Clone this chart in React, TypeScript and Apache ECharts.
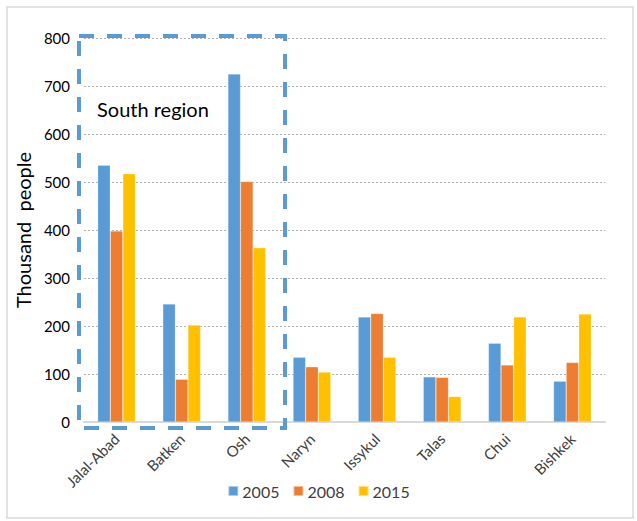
import React, { useEffect, useRef } from "react";
import * as echarts from "echarts";

const categories = ["Jalal-Abad", "Batken", "Osh", "Naryn", "Issykul", "Talas", "Chui", "Bishkek"];
const seriesNames = ["2005", "2008", "2015"];
const values2005 = [535, 246, 725, 135, 219, 94, 164, 85];
const values2008 = [398, 89, 501, 115, 226, 93, 119, 124];
const values2015 = [517, 202, 363, 104, 135, 53, 219, 225];
const colors = ["#5b9bd5", "#ed7d31", "#ffc000"];

export default function App() {
  const ref = useRef<HTMLDivElement>(null);
  useEffect(() => {
    document.body.style.margin = "0";
    const chart = echarts.init(ref.current!, null, { renderer: "svg" });
    const font = "Lato, 'Noto Sans', sans-serif";
    const data = [values2005, values2008, values2015];
    chart.setOption({
      animation: false,
      backgroundColor: "#ffffff",
      textStyle: { fontFamily: font },
      grid: { left: 84, right: 32, top: 38, bottom: 99, containLabel: false },
      legend: {
        data: seriesNames,
        top: 478,
        left: "center",
        itemWidth: 10,
        itemHeight: 10,
        itemGap: 13,
        icon: "rect",
        textStyle: { fontSize: 16, color: "#404040", fontFamily: font, padding: [0, 0, 0, -1] },
      },
      xAxis: {
        type: "category",
        data: categories,
        axisLine: { lineStyle: { color: "#d9d9d9", width: 2 } },
        axisTick: { show: false },
        axisLabel: { rotate: 45, fontSize: 15, color: "#404040", margin: 14, fontFamily: font },
      },
      yAxis: {
        type: "value",
        min: 0,
        max: 800,
        interval: 100,
        name: "Thousand  people",
        nameLocation: "middle",
        nameGap: 50,
        nameRotate: 90,
        nameTextStyle: { fontSize: 20, color: "#000000", fontFamily: font },
        axisLine: { show: false },
        axisTick: { show: false },
        axisLabel: { fontSize: 15, color: "#000000", margin: 14, fontFamily: font },
        splitLine: { lineStyle: { color: "#b0b0b0", type: [2, 2], width: 1 } },
      },
      series: seriesNames.map((name, i) => ({
        name,
        type: "bar",
        data: data[i],
        barGap: "0%",
        barCategoryGap: "42%",
        itemStyle: { color: colors[i], borderColor: "rgba(255,255,255,0.5)", borderWidth: 0.5 },
      })),
      graphic: [
        {
          type: "rect",
          shape: { x: 7, y: 7, width: 626, height: 511 },
          style: { fill: "none", stroke: "#d9d9d9", lineWidth: 1.5 },
          z: 0,
        },
        {
          type: "rect",
          shape: { x: 79, y: 36, width: 206, height: 392 },
          style: { fill: "none", stroke: "#5b9bd5", lineWidth: 4, lineDash: [15, 13] },
          z: 10,
        },
        {
          type: "text",
          x: 97,
          y: 99,
          style: { text: "South region", fontSize: 20, fill: "#000000", fontFamily: font },
          z: 10,
        },
      ],
    });
    return () => chart.dispose();
  }, []);
  return <div ref={ref} style={{ width: 637, height: 521 }} />;
}
